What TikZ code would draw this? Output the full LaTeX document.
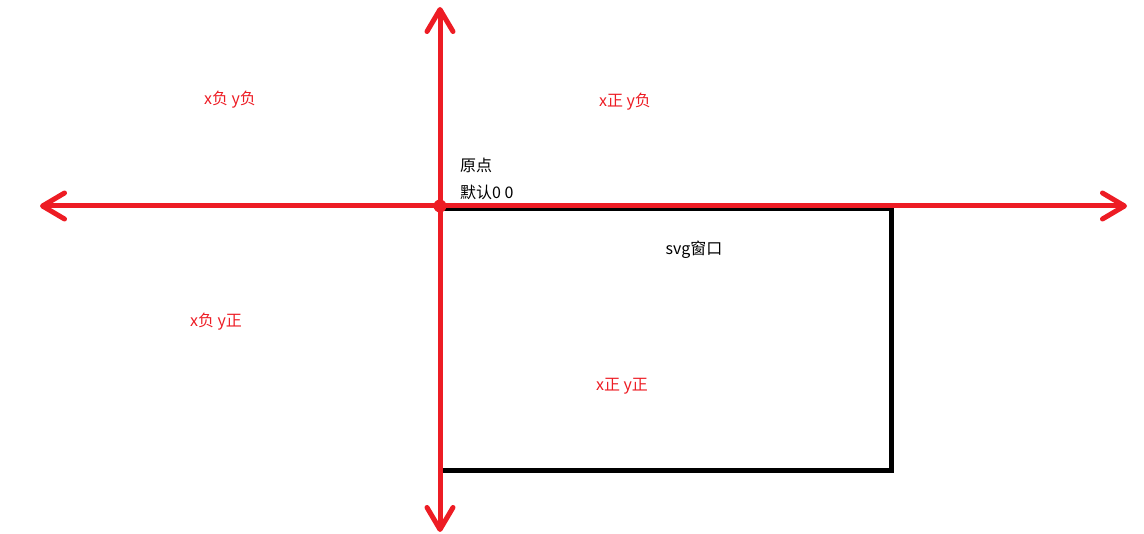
\documentclass[tikz,border=0pt]{standalone}
\usepackage{fontspec}
\setmainfont{Noto Sans CJK SC}
\usetikzlibrary{arrows.meta}
\definecolor{paintred}{HTML}{ED1C24}
\tikzset{
  axis/.style={line width=5pt,paintred,line cap=round,
    -{Straight Barb[length=22pt,width=26pt,round]}},
  lbl/.style={text=paintred,font=\fontsize{16}{19}\selectfont,inner sep=0pt},
  note/.style={font=\fontsize{16}{19}\selectfont,inner sep=0pt}
}
\begin{document}
\begin{tikzpicture}[x=1pt,y=-1pt]
\useasboundingbox (0,0) rectangle (1144,534);
% svg window
\draw[line width=5pt] (440,209) rectangle (891,471);
% axes
\coordinate (O) at (440,206);
\coordinate (xl) at (40,206);
\coordinate (xr) at (1127,206);
\coordinate (yt) at (440,7);
\coordinate (yb) at (440,532);
\draw[axis] (O)--(xl);
\draw[axis] (O)--(xr);
\draw[axis] (O)--(yt);
\draw[axis] (O)--(yb);
\fill[paintred] (O) circle (6.5pt);
% labels
\node[lbl] (q1) at (230,100) {x负 y负};
\node[lbl] (q2) at (625,102) {x正 y负};
\node[lbl] (q3) at (216,322) {x负 y正};
\node[lbl] (q4) at (622,386) {x正 y正};
\node[note,anchor=west] (orig) at (460,165) {原点};
\node[note,anchor=west] (dflt) at (460,192) {默认0 0};
\node[note] (win) at (694,250) {svg窗口};
\end{tikzpicture}
\end{document}
